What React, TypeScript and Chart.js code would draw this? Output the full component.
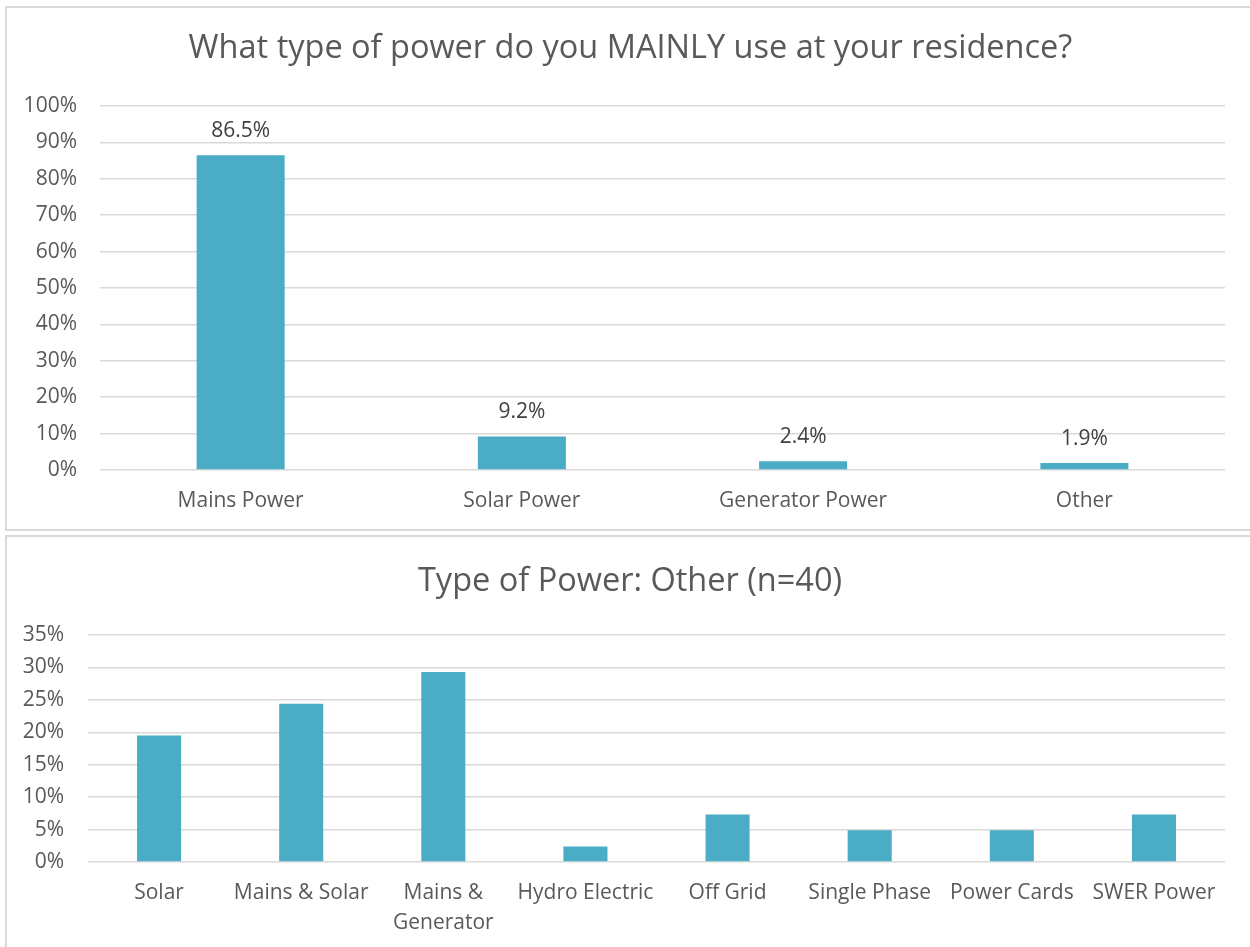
import React, { useEffect, useRef } from 'react';
import { Chart, registerables } from 'chart.js';
Chart.register(...registerables);

const mainTitle = 'What type of power do you MAINLY use at your residence?';
const mainCategories = ['Mains Power', 'Solar Power', 'Generator Power', 'Other'];
const mainValues = [86.5, 9.2, 2.4, 1.9];
const mainMax = 100;
const mainStep = 10;

const otherTitle = 'Type of Power: Other (n=40)';
const otherCategories: (string | string[])[] = [
  'Solar',
  'Mains & Solar',
  ['Mains &', 'Generator'],
  'Hydro Electric',
  'Off Grid',
  'Single Phase',
  'Power Cards',
  'SWER Power',
];
const otherValues = [19.5, 24.4, 29.3, 2.4, 7.3, 4.9, 4.9, 7.3];
const otherMax = 35;
const otherStep = 5;

const FONT = "'Open Sans', sans-serif";
const BAR = '#4BACC6';
const GRID = '#d9d9d9';
const TEXT = '#595959';
const TITLE_SIZE = 32.5;

const dataLabelPlugin = {
  id: 'valueLabels',
  afterDatasetsDraw(chart: any, _args: any, opts: any) {
    if (!opts || !opts.show) return;
    const ctx = chart.ctx;
    const meta = chart.getDatasetMeta(0);
    const data = chart.data.datasets[0].data as number[];
    ctx.save();
    ctx.font = `21px ${FONT}`;
    ctx.fillStyle = '#404040';
    ctx.textAlign = 'center';
    ctx.textBaseline = 'middle';
    meta.data.forEach((bar: any, i: number) => {
      ctx.fillText(data[i].toFixed(1) + '%', bar.x, bar.y - 24);
    });
    ctx.restore();
  },
};

// Draws the title centred on a given x (the Chart.js title only reserves the space).
const centeredTitlePlugin = {
  id: 'centeredTitle',
  afterDraw(chart: any, _args: any, opts: any) {
    const tb = chart.titleBlock;
    if (!tb || !opts) return;
    const ctx = chart.ctx;
    const lh = TITLE_SIZE * 1.2;
    ctx.save();
    ctx.font = `${TITLE_SIZE}px ${FONT}`;
    ctx.fillStyle = TEXT;
    ctx.textAlign = 'center';
    ctx.textBaseline = 'middle';
    ctx.fillText(opts.text, opts.x, tb.top + opts.padTop + lh / 2);
    ctx.restore();
  },
};

type Cfg = {
  title: string;
  titleX: number;
  labels: (string | string[])[];
  values: number[];
  max: number;
  step: number;
  yWidth: number;
  yPad: number;
  titlePadTop: number;
  titlePadBottom: number;
  xPad: number;
  xLineHeight: number;
  padRight: number;
  padBottom: number;
  barPct: number;
  showLabels: boolean;
};

function BarChart({ cfg, style }: { cfg: Cfg; style: React.CSSProperties }) {
  const ref = useRef<HTMLCanvasElement>(null);
  useEffect(() => {
    if (!ref.current) return;
    const chart = new Chart(ref.current, {
      type: 'bar',
      data: {
        labels: cfg.labels as any,
        datasets: [
          {
            data: cfg.values,
            backgroundColor: BAR,
            borderWidth: 0,
            categoryPercentage: 1,
            barPercentage: cfg.barPct,
          },
        ],
      },
      plugins: [dataLabelPlugin, centeredTitlePlugin],
      options: {
        animation: false,
        responsive: false,
        maintainAspectRatio: false,
        layout: { padding: { left: 0, right: cfg.padRight, top: 0, bottom: cfg.padBottom } },
        plugins: {
          legend: { display: false },
          tooltip: { enabled: false },
          title: {
            display: true,
            text: cfg.title,
            color: 'rgba(0,0,0,0)',
            font: { family: FONT, size: TITLE_SIZE, weight: 'normal', lineHeight: 1.2 },
            padding: { top: cfg.titlePadTop, bottom: cfg.titlePadBottom },
          },
          valueLabels: { show: cfg.showLabels },
          centeredTitle: { text: cfg.title, x: cfg.titleX, padTop: cfg.titlePadTop },
        } as any,
        scales: {
          x: {
            grid: { display: false, drawTicks: false },
            border: { display: false },
            ticks: {
              color: TEXT,
              padding: cfg.xPad,
              maxRotation: 0,
              autoSkip: false,
              font: { family: FONT, size: 21, lineHeight: cfg.xLineHeight },
            },
          },
          y: {
            min: 0,
            max: cfg.max,
            afterFit: (s: any) => {
              s.width = cfg.yWidth;
            },
            grid: { color: GRID, lineWidth: 1.5, drawTicks: false },
            border: { display: false },
            ticks: {
              stepSize: cfg.step,
              color: TEXT,
              padding: cfg.yPad,
              font: { family: FONT, size: 21 },
              callback: (v: any) => v + '%',
            },
          },
        },
      },
    });
    return () => chart.destroy();
  }, []);
  return <canvas ref={ref} width={style.width as number} height={style.height as number} style={style} />;
}

export default function App() {
  const topCfg: Cfg = {
    title: mainTitle,
    titleX: 623.5,
    labels: mainCategories,
    values: mainValues,
    max: mainMax,
    step: mainStep,
    yWidth: 93,
    yPad: 23,
    titlePadTop: 21.5,
    titlePadBottom: 37.5,
    xPad: 18.4,
    xLineHeight: 1.2,
    padRight: 25,
    padBottom: 15,
    barPct: 0.313,
    showLabels: true,
  };
  const botCfg: Cfg = {
    title: otherTitle,
    titleX: 623,
    labels: otherCategories,
    values: otherValues,
    max: otherMax,
    step: otherStep,
    yWidth: 81,
    yPad: 24,
    titlePadTop: 25.5,
    titlePadBottom: 33.5,
    xPad: 16,
    xLineHeight: 1.43,
    padRight: 25,
    padBottom: 10,
    barPct: 0.31,
    showLabels: false,
  };
  return (
    <div style={{ position: 'absolute', left: 0, top: 0, width: 1250, height: 947, overflow: 'hidden', background: '#fff' }}>
      <div style={{ position: 'absolute', left: 5, top: 6, width: 1270, height: 525, border: `2px solid ${GRID}`, boxSizing: 'border-box' }} />
      <div style={{ position: 'absolute', left: 5, top: 535, width: 1270, height: 430, border: `2px solid ${GRID}`, boxSizing: 'border-box' }} />
      <BarChart cfg={topCfg} style={{ position: 'absolute', left: 7, top: 8, width: 1243, height: 539 }} />
      <BarChart cfg={botCfg} style={{ position: 'absolute', left: 7, top: 537, width: 1243, height: 427 }} />
    </div>
  );
}
